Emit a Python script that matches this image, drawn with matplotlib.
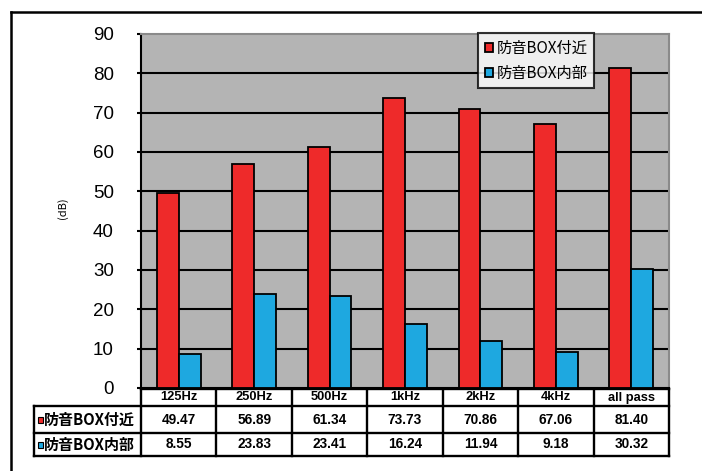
import matplotlib
matplotlib.use("Agg")
import matplotlib.pyplot as plt
import matplotlib.transforms as mtransforms
from matplotlib.patches import Rectangle
from matplotlib.lines import Line2D
import numpy as np

categories = ["125Hz", "250Hz", "500Hz", "1kHz", "2kHz", "4kHz", "all pass"]
series_names = ["防音BOX付近", "防音BOX内部"]
near_values = [49.47, 56.89, 61.34, 73.73, 70.86, 67.06, 81.40]
inside_values = [8.55, 23.83, 23.41, 16.24, 11.94, 9.18, 30.32]
y_ticks = [0, 10, 20, 30, 40, 50, 60, 70, 80, 90]

RED = "#ee2a2a"
BLUE = "#1ea8e0"
BG = "#b4b4b4"
CJK = ["Noto Sans CJK JP", "DejaVu Sans"]
LAT = ["Liberation Sans", "Noto Sans CJK JP"]

W, H = 702, 471
fig = plt.figure(figsize=(W / 100, H / 100), dpi=100)

def fx(px):
    return px / W

def fy(py):
    return 1 - py / H

ax_l, ax_r, ax_t, ax_b = 141, 669, 34, 388
ax = fig.add_axes([fx(ax_l), fy(ax_b), fx(ax_r - ax_l), (ax_b - ax_t) / H])
ax.set_facecolor(BG)

x = np.arange(len(categories))
bw = 0.29
ax.bar(x - bw / 2, near_values, bw, color=RED, edgecolor="black", linewidth=1.3, zorder=3, label=series_names[0])
ax.bar(x + bw / 2, inside_values, bw, color=BLUE, edgecolor="black", linewidth=1.3, zorder=3, label=series_names[1])

ax.set_xlim(-0.5, len(categories) - 0.5)
ax.set_ylim(0, 90)
ax.set_yticks(y_ticks)
ax.set_yticklabels([str(v) for v in y_ticks], fontsize=13.5, family=LAT)
ax.tick_params(axis="y", direction="out", length=3, width=1.5, pad=16.5)
ax.set_xticks([])
for v in y_ticks[1:-1]:
    ax.axhline(v, color="black", linewidth=1.5, zorder=1)
ax.spines["left"].set_color("black")
ax.spines["left"].set_linewidth(1.5)
ax.spines["bottom"].set_color("black")
ax.spines["bottom"].set_linewidth(1.5)
ax.spines["top"].set_color("#8a8a8a")
ax.spines["top"].set_linewidth(1.5)
ax.spines["right"].set_color("#8a8a8a")
ax.spines["right"].set_linewidth(1.5)

# legend
leg = ax.legend(loc="upper left", bbox_to_anchor=(fx(478), fy(33)), bbox_transform=fig.transFigure,
                prop={"family": CJK, "size": 11}, frameon=True, fancybox=False,
                handlelength=0.55, handleheight=0.55, handletextpad=0.2, borderpad=0.45,
                labelspacing=0.5, borderaxespad=0)
leg.get_frame().set_edgecolor("black")
leg.get_frame().set_linewidth(1.5)
leg.set_zorder(5)

# (dB) label
fig.text(fx(63), fy(208), "(dB)", rotation=90, fontsize=8, family=CJK, ha="center", va="center")

# outer frame
fig.add_artist(Line2D([fx(11), 1.0], [fy(12), fy(12)], color="black", linewidth=1.8, transform=fig.transFigure))
fig.add_artist(Line2D([fx(11), fx(11)], [fy(12), 0.0], color="black", linewidth=1.8, transform=fig.transFigure))

# data table
tr = mtransforms.blended_transform_factory(ax.transData, fig.transFigure)
row_y = [389, 406, 433, 456]
lw = 1.7
fig.add_artist(Line2D([-0.5, len(categories) - 0.5], [fy(row_y[0])] * 2, color="black", lw=lw, transform=tr))
for yy in row_y[1:]:
    fig.add_artist(Line2D([fx(34), fx(ax_r)], [fy(yy)] * 2, color="black", lw=lw, transform=fig.transFigure))
for i in range(len(categories) + 1):
    xb = i - 0.5
    fig.add_artist(Line2D([xb, xb], [fy(row_y[0]), fy(row_y[3])], color="black", lw=lw, transform=tr))
fig.add_artist(Line2D([fx(34), fx(34)], [fy(row_y[1]), fy(row_y[3])], color="black", lw=lw, transform=fig.transFigure))

for i, c in enumerate(categories):
    fig.text(i, fy((row_y[0] + row_y[1]) / 2), c, transform=tr, ha="center", va="center",
             fontsize=9.3, fontweight="bold", family=LAT)
    fig.text(i, fy((row_y[1] + row_y[2]) / 2), f"{near_values[i]:.2f}", transform=tr, ha="center",
             va="center", fontsize=9.8, fontweight="bold", family=LAT)
    fig.text(i, fy((row_y[2] + row_y[3]) / 2), f"{inside_values[i]:.2f}", transform=tr, ha="center",
             va="center", fontsize=9.8, fontweight="bold", family=LAT)

for r, (name, col) in enumerate(zip(series_names, [RED, BLUE])):
    yc = (row_y[r + 1] + row_y[r + 2]) / 2
    fig.add_artist(Rectangle((fx(38), fy(yc + 3)), fx(5), 6 / H, facecolor=col, edgecolor="black",
                             linewidth=0.8, transform=fig.transFigure))
    fig.text(fx(43.5), fy(yc), name, ha="left", va="center", fontsize=10.8, fontweight="bold", family=CJK)

fig.savefig("out.png", dpi=100)
